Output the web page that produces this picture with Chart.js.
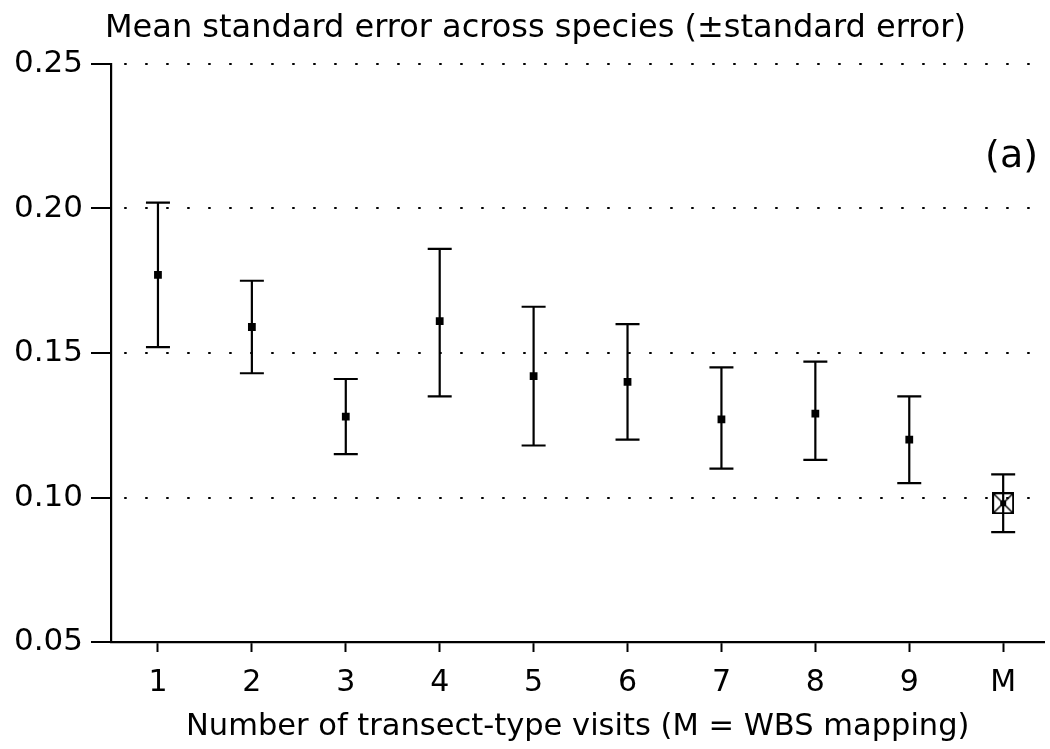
<!DOCTYPE html>
<html>
<head>
<meta charset="utf-8">
<script src="https://cdn.jsdelivr.net/npm/chart.js@4/dist/chart.umd.min.js"></script>
<style>
  body { margin: 0; background: #fff; }
  canvas { display: block; }
</style>
</head>
<body>
<canvas id="seChart" width="1050" height="749"></canvas>
<script>
// values
const categories = ['1', '2', '3', '4', '5', '6', '7', '8', '9', 'M'];
const means = [0.177, 0.159, 0.128, 0.161, 0.142, 0.140, 0.127, 0.129, 0.120, 0.098];
const upper = [0.202, 0.175, 0.141, 0.186, 0.166, 0.160, 0.145, 0.147, 0.135, 0.108];
const lower = [0.152, 0.143, 0.115, 0.135, 0.118, 0.120, 0.110, 0.113, 0.105, 0.088];
const yTicks = [0.05, 0.10, 0.15, 0.20, 0.25];

const titleText = 'Mean standard error across species (\u00b1standard error)';
const xTitle = 'Number of transect-type visits (M = WBS mapping)';
const panelLabel = '(a)';

const FONT = '"DejaVu Sans", sans-serif';

// open square with a cross for the mapping point
function crossedBox() {
  const c = document.createElement('canvas');
  c.width = 22; c.height = 22;
  const g = c.getContext('2d');
  g.strokeStyle = '#000';
  g.lineWidth = 2;
  g.strokeRect(1, 1, 20, 20);
  g.lineWidth = 1.5;
  g.beginPath();
  g.moveTo(2, 2); g.lineTo(20, 20);
  g.moveTo(20, 2); g.lineTo(2, 20);
  g.stroke();
  g.fillStyle = '#000';
  g.fillRect(8, 8, 6, 6);
  return c;
}

const pointStyles = categories.map(c => c === 'M' ? crossedBox() : 'rect');

// whiskers, title text and panel letter
const extras = {
  id: 'extras',
  beforeDatasetsDraw(chart) {
    const ctx = chart.ctx;
    const xs = chart.scales.x, ys = chart.scales.y;
    ctx.save();
    ctx.strokeStyle = '#000';
    ctx.lineWidth = 2.2;
    for (let i = 0; i < categories.length; i++) {
      const px = xs.getPixelForValue(i + 1);
      const top = ys.getPixelForValue(upper[i]);
      const bot = ys.getPixelForValue(lower[i]);
      ctx.beginPath();
      ctx.moveTo(px, top); ctx.lineTo(px, bot);
      ctx.moveTo(px - 12, top); ctx.lineTo(px + 12, top);
      ctx.moveTo(px - 12, bot); ctx.lineTo(px + 12, bot);
      ctx.stroke();
    }
    ctx.restore();
  },
  afterDraw(chart) {
    const ctx = chart.ctx;
    ctx.save();
    ctx.fillStyle = '#000';
    ctx.textBaseline = 'alphabetic';
    ctx.font = '32px ' + FONT;
    ctx.textAlign = 'left';
    ctx.fillText(titleText, 105, 37);
    ctx.font = '38px ' + FONT;
    ctx.textAlign = 'right';
    ctx.fillText(panelLabel, 1038, 167);
    ctx.restore();
  }
};

const ctx = document.getElementById('seChart').getContext('2d');
new Chart(ctx, {
  type: 'scatter',
  data: {
    datasets: [{
      label: 'Mean',
      data: means.map((v, i) => ({ x: i + 1, y: v })),
      pointStyle: pointStyles,
      pointRadius: 5.5,
      pointHoverRadius: 5.5,
      backgroundColor: '#000',
      borderColor: '#000',
      borderWidth: 0,
    }]
  },
  options: {
    responsive: false,
    animation: false,
    layout: { padding: { top: 64, right: 2, bottom: 0, left: 0 } },
    plugins: {
      legend: { display: false },
      tooltip: { enabled: false },
    },
    scales: {
      x: {
        type: 'linear',
        min: 0.5,
        max: 10.44,
        afterBuildTicks: s => { s.ticks = categories.map((c, i) => ({ value: i + 1 })); },
        afterFit: s => { s.height = 107; },
        ticks: {
          autoSkip: false,
          maxRotation: 0,
          padding: 13,
          color: '#000',
          font: { family: FONT, size: 30 },
          callback: v => categories[Math.round(v) - 1],
        },
        grid: { drawOnChartArea: false, tickLength: 10, tickWidth: 2, tickColor: '#000' },
        border: { color: '#000', width: 2.2 },
        title: {
          display: true,
          text: xTitle,
          color: '#000',
          font: { family: FONT, size: 30.5 },
          padding: { top: 0, bottom: 4 },
        },
      },
      y: {
        min: 0.05,
        max: 0.25,
        afterBuildTicks: s => { s.ticks = yTicks.map(v => ({ value: v })); },
        afterFit: s => { s.width = 111; },
        ticks: {
          padding: 8,
          color: '#000',
          font: { family: FONT, size: 31 },
          callback: v => v.toFixed(2),
        },
        grid: {
          color: c => (c.tick && c.tick.value === 0.05) ? 'rgba(0,0,0,0)' : '#000',
          lineWidth: 2,
          tickLength: 20,
          tickWidth: 2,
          tickColor: '#000',
          tickBorderDash: [],
        },
        border: { color: '#000', width: 2.2, dash: [2.5, 18.5], dashOffset: -12 },
      },
    },
  },
  plugins: [extras],
});
</script>
</body>
</html>
